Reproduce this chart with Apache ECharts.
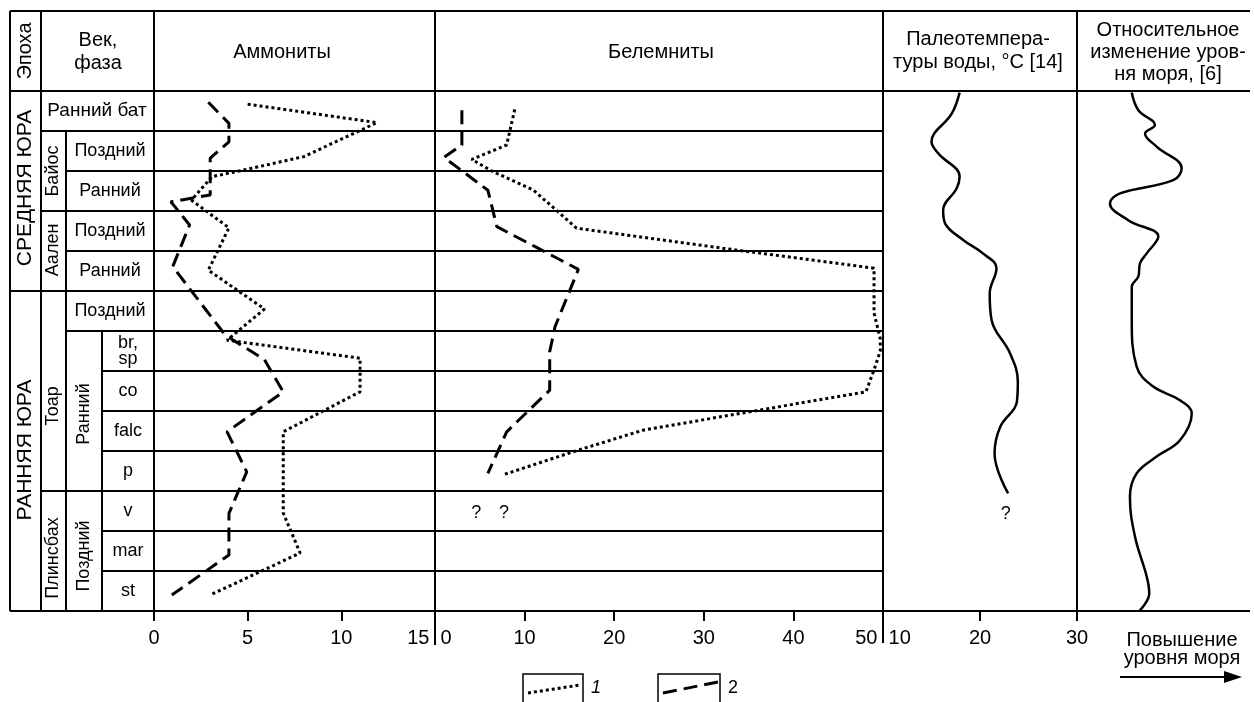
<!DOCTYPE html>
<html>
<head>
<meta charset="utf-8">
<script src="https://cdn.jsdelivr.net/npm/echarts@6.0.0/dist/echarts.min.js"></script>
<style>
  html, body { margin: 0; padding: 0; background: #fff; }
  #chart { width: 1254px; height: 702px; }
</style>
</head>
<body>
<div id="chart"></div>
<script>
// row labels (top to bottom)
var rowLabels = ['Ранний бат', 'Поздний', 'Ранний', 'Поздний', 'Ранний', 'Поздний',
    'br,\nsp', 'co', 'falc', 'p', 'v', 'mar', 'st'];

// ammonites, depth in rows from the top of the table
var ammDotDepth = [0.33, 0.79, 1.64, 1.98, 2.14, 2.73, 3.42, 4.48, 5.45, 6.23, 6.68, 7.52, 8.52, 10.55, 11.55, 12.6];
var ammDotValue = [5.0, 11.9, 8.0, 4.75, 3.1, 2.0, 4.0, 2.9, 5.9, 3.9, 11.0, 11.0, 6.9, 6.9, 7.8, 3.0];
var ammDashDepth = [0.28, 0.81, 1.27, 1.68, 2.6, 2.77, 3.35, 4.39, 6.1, 6.72, 7.52, 8.52, 9.52, 10.56, 11.6, 12.6];
var ammDashValue = [2.9, 4.0, 4.0, 3.0, 3.0, 0.9, 1.9, 1.0, 3.8, 5.9, 6.9, 3.9, 4.95, 4.0, 4.0, 0.95];

// belemnites
var belDotDepth = [0.46, 1.35, 1.71, 2.02, 2.48, 3.43, 3.93, 4.43, 5.55, 6.2, 6.5, 6.97, 7.52, 8.02, 8.48, 9.02, 9.58];
var belDotValue = [8.9, 8.0, 4.1, 6.5, 11.0, 15.8, 32.1, 49.0, 49.0, 49.7, 49.7, 49.0, 48.1, 35.1, 23.2, 15.4, 7.8];
var belDashDepth = [0.48, 1.35, 1.66, 2.48, 3.39, 3.93, 4.46, 5.89, 6.52, 7.48, 8.52, 9.56];
var belDashValue = [3.0, 3.0, 1.0, 5.9, 6.9, 11.5, 16.0, 13.4, 12.8, 12.8, 8.0, 5.9];
var belQuestion = [[4.6, 10.54], [7.7, 10.54]];

// paleotemperature, °C
var tempDepth = [0.04, 0.56, 1.27, 1.56, 2.14, 2.43, 2.98, 3.31, 3.73, 4.06, 4.43, 5.06, 5.73, 6.56, 7.27, 7.77, 8.39, 9.06, 10.06];
var tempValue = [17.9, 17.1, 15.0, 15.7, 17.9, 17.6, 16.2, 16.4, 18.3, 20.3, 21.7, 21.0, 21.2, 23.1, 23.9, 23.8, 22.1, 21.5, 22.9];
var tempQuestion = [[22.65, 10.58]];

// relative sea level (arbitrary units)
var seaDepth = [0.04, 0.48, 0.85, 1.06, 1.39, 1.93, 2.23, 2.56, 2.81, 3.23, 3.64, 4.06, 4.31, 4.64, 4.89,
    5.73, 6.89, 7.39, 7.73, 8.06, 8.73, 9.14, 9.56, 10.14, 11.14, 12.14, 12.56, 13.0];
var seaValue = [32.6, 36.5, 46.4, 40.5, 47.4, 62.3, 57.3, 25.6, 19.6, 30.5, 48.4, 41.5, 37.5, 36.5, 32.6,
    32.6, 35.5, 45.4, 61.3, 68.3, 61.3, 47.4, 35.5, 31.5, 34.5, 41.5, 43.0, 37.1];

var FONT = '"Liberation Sans", Arial, Helvetica, sans-serif';
var TOP = 11, HEAD = 91, ROW_H = 40, BOTTOM = HEAD + ROW_H * 13;
var colX = [10, 41, 66, 102, 154, 435, 883, 1077, 1245];

function pairs(vals, depths) {
    return vals.map(function (v, i) { return [v, depths[i]]; });
}
function rowY(i) { return HEAD + ROW_H * i; }

var chart = echarts.init(document.getElementById('chart'), null, { renderer: 'canvas' });

var g = [];
function hline(x1, x2, y, w) {
    g.push({ type: 'line', silent: true, shape: { x1: x1, y1: y, x2: x2, y2: y }, style: { stroke: '#000', lineWidth: w || 2 } });
}
function vline(x, y1, y2, w) {
    g.push({ type: 'line', silent: true, shape: { x1: x, y1: y1, x2: x, y2: y2 }, style: { stroke: '#000', lineWidth: w || 2 } });
}
function text(str, x, y, size, rot, extra) {
    var st = {
        text: str, fill: '#000', font: (extra && extra.italic ? 'italic ' : '') + size + 'px ' + FONT,
        align: 'center', verticalAlign: 'middle', textAlign: 'center', textVerticalAlign: 'middle',
        lineHeight: extra && extra.lh ? extra.lh : size + 2
    };
    g.push({ type: 'text', silent: true, x: x, y: y, rotation: rot || 0, style: st });
}

// frame
hline(colX[0], 1250, TOP);
hline(colX[0], 1250, HEAD);
hline(colX[0], 1250, BOTTOM);
vline(colX[0], TOP, BOTTOM);
vline(colX[1], TOP, BOTTOM);
vline(colX[2], rowY(1), BOTTOM);
vline(colX[3], rowY(6), BOTTOM);
vline(colX[4], TOP, BOTTOM);
vline(colX[5], TOP, BOTTOM + 34);
vline(colX[6], TOP, BOTTOM + 32);
vline(colX[7], TOP, BOTTOM);

// left parts of the row lines
var rowLineStart = { 1: 41, 2: 66, 3: 41, 4: 66, 5: 10, 6: 66, 7: 102, 8: 102, 9: 102, 10: 41, 11: 102, 12: 102 };
Object.keys(rowLineStart).forEach(function (k) {
    hline(rowLineStart[k], colX[4], rowY(+k));
});

// headers
text('Эпоха', 25, 51, 20, Math.PI / 2);
text('Век,\nфаза', 98, 52, 20, 0, { lh: 23 });
text('Аммониты', 282, 52, 20);
text('Белемниты', 661, 52, 20);
text('Палеотемпера-\nтуры воды, °С [14]', 978, 51, 20, 0, { lh: 23 });
text('Относительное\nизменение уров-\nня моря, [6]', 1168, 52, 20, 0, { lh: 22 });

// epochs and stages
text('СРЕДНЯЯ ЮРА', 25, 188, 21, Math.PI / 2);
text('РАННЯЯ ЮРА', 25, 450, 21, Math.PI / 2);
text('Байос', 53, 171, 18, Math.PI / 2);
text('Аален', 53, 250, 18, Math.PI / 2);
text('Тоар', 53, 406, 18, Math.PI / 2);
text('Плинсбах', 53, 558, 18, Math.PI / 2);
text('Ранний', 84, 414, 18, Math.PI / 2);
text('Поздний', 84, 556, 18, Math.PI / 2);

rowLabels.forEach(function (lab, i) {
    var cx = i === 0 ? 97 : (i < 6 ? 110 : 128);
    text(lab, cx, rowY(i) + ROW_H / 2, i === 0 ? 19 : 18, 0, { lh: 16 });
});

// sea level note
text('Повышение\nуровня моря', 1182, 649, 20, 0, { lh: 18 });
g.push({ type: 'line', silent: true, shape: { x1: 1120, y1: 677, x2: 1228, y2: 677 }, style: { stroke: '#000', lineWidth: 2 } });
g.push({ type: 'polygon', silent: true, shape: { points: [[1242, 677], [1224, 671], [1224, 683]] }, style: { fill: '#000' } });

// legend
g.push({ type: 'polyline', silent: true, shape: { points: [[523, 703], [523, 674], [583, 674], [583, 703]] }, style: { stroke: '#000', lineWidth: 1.5, fill: null } });
g.push({ type: 'line', silent: true, shape: { x1: 528, y1: 693, x2: 580, y2: 685 }, style: { stroke: '#000', lineWidth: 3, lineDash: [3, 3] } });
text('1', 596, 688, 18, 0, { italic: true });
g.push({ type: 'polyline', silent: true, shape: { points: [[658, 703], [658, 674], [720, 674], [720, 703]] }, style: { stroke: '#000', lineWidth: 1.5, fill: null } });
g.push({ type: 'line', silent: true, shape: { x1: 663, y1: 693, x2: 718, y2: 682 }, style: { stroke: '#000', lineWidth: 3, lineDash: [14, 7] } });
text('2', 733, 688, 18);

var gridW = [colX[5] - colX[4], colX[6] - colX[5], colX[7] - colX[6], colX[8] - colX[7]];
var gridL = [colX[4], colX[5], colX[6], colX[7]];

var labelBase = { color: '#000', fontSize: 20, fontFamily: FONT, margin: 17 };
// keep a small gap between the label and the column border
function edgeFmt(min, max, alignMin, alignMax) {
    return function (v) {
        if (v === min && alignMin === 'left') return ' ' + v;
        if (v === max && alignMax === 'right') return v + ' ';
        return String(v);
    };
}
function xAxis(idx, min, max, interval, showLabels, alignMin, alignMax) {
    return {
        type: 'value', gridIndex: idx, position: 'bottom', min: min, max: max, interval: interval,
        axisLine: { show: true, onZero: false, lineStyle: { color: '#000', width: 2 } },
        axisTick: { show: showLabels, length: 10, inside: false, lineStyle: { color: '#000', width: 2 } },
        axisLabel: Object.assign({
            show: showLabels, alignMinLabel: alignMin, alignMaxLabel: alignMax,
            showMinLabel: true, showMaxLabel: true, formatter: edgeFmt(min, max, alignMin, alignMax)
        }, labelBase),
        splitLine: { show: false }
    };
}
function yAxis(idx, rows) {
    return {
        type: 'value', gridIndex: idx, min: 0, max: 13, interval: 1, inverse: true,
        axisLine: { show: false }, axisTick: { show: false }, axisLabel: { show: false },
        splitLine: { show: rows, lineStyle: { color: '#000', width: 2 } }
    };
}
function curve(name, xi, data, dash, smooth) {
    return {
        name: name, type: 'line', xAxisIndex: xi, yAxisIndex: xi, data: data,
        symbol: 'none', smooth: smooth || false, clip: false, silent: true,
        lineStyle: { color: '#000', width: dash ? 3 : 2.5, type: dash || 'solid', cap: 'butt' }
    };
}
function question(xi, data) {
    return {
        type: 'scatter', xAxisIndex: xi, yAxisIndex: xi, data: data, symbolSize: 0.1,
        itemStyle: { color: '#000' }, silent: true,
        label: {
            show: true, position: 'inside', formatter: '?', color: '#000', opacity: 1,
            textBorderWidth: 0, fontSize: 18, fontFamily: FONT
        }
    };
}

chart.setOption({
    animation: false,
    textStyle: { fontFamily: FONT },
    grid: [0, 1, 2, 3].map(function (i) {
        return { left: gridL[i], top: HEAD, width: gridW[i], height: ROW_H * 13, outerBoundsMode: 'none', containLabel: false };
    }),
    xAxis: [
        xAxis(0, 0, 15, 5, true, 'center', 'right'),
        xAxis(1, 0, 50, 10, true, 'left', 'right'),
        xAxis(2, 10, 30, 10, true, 'left', 'center'),
        xAxis(3, 0, 100, 50, false)
    ],
    yAxis: [yAxis(0, true), yAxis(1, true), yAxis(2, false), yAxis(3, false)],
    series: [
        curve('1', 0, pairs(ammDotValue, ammDotDepth), [3, 3]),
        curve('2', 0, pairs(ammDashValue, ammDashDepth), [14, 7]),
        curve('1', 1, pairs(belDotValue, belDotDepth), [3, 3]),
        curve('2', 1, pairs(belDashValue, belDashDepth), [14, 7]),
        question(1, belQuestion),
        curve('t', 2, pairs(tempValue, tempDepth), null, 0.4),
        question(2, tempQuestion),
        curve('s', 3, pairs(seaValue, seaDepth), null, 0.4)
    ],
    graphic: { elements: g }
});
</script>
</body>
</html>
